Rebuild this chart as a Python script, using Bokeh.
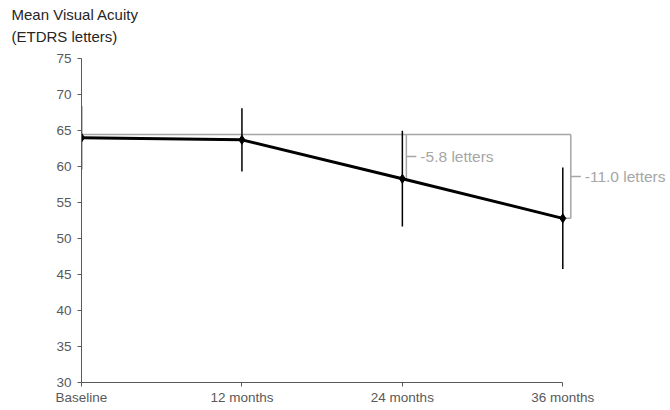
from bokeh.plotting import figure
from bokeh.models import Range1d, FixedTicker, Title
from bokeh.embed import file_html
from bokeh.resources import INLINE
from bokeh.core.properties import value

# ---- data ----
categories = ["Baseline", "12 months", "24 months", "36 months"]
mean_va = [64.0, 63.7, 58.3, 52.8]
err_va = [4.4, 4.4, 6.65, 7.05]
y_ticks = [30, 35, 40, 45, 50, 55, 60, 65, 70, 75]
change_index = [2, 3]
change_labels = ["-5.8 letters", "-11.0 letters"]
title_lines = ["Mean Visual Acuity", "(ETDRS letters)"]

# ---- styling ----
FONT = "Liberation Sans"
GRAY = "#A6A6A6"
AX = "#595959"
TXT = "#262626"

W, H = 670, 410
LEFT, RIGHT, TOP, BOTTOM = 81, 0, 58, 28
frame_w = W - LEFT - RIGHT
px_per_unit = 481.3 / 3.0            # spacing between category ticks
x_end = frame_w / px_per_unit

xs = list(range(len(categories)))

p = figure(width=W, height=H, output_backend="svg", toolbar_location=None,
           x_range=Range1d(0, x_end), y_range=Range1d(y_ticks[0], y_ticks[-1]),
           min_border_left=LEFT, min_border_right=RIGHT,
           min_border_top=TOP, min_border_bottom=BOTTOM)
p.xgrid.visible = False
p.ygrid.visible = False
p.outline_line_color = None
p.background_fill_color = "white"
p.border_fill_color = "white"

for ax in (p.xaxis[0], p.yaxis[0]):
    ax.axis_line_color = AX
    ax.axis_line_width = 1
    ax.major_tick_line_color = AX
    ax.major_tick_in = 0
    ax.major_tick_out = 4
    ax.minor_tick_line_color = None
    ax.major_label_text_font = FONT
    ax.major_label_text_font_size = "13.5px"
    ax.major_label_text_color = AX

p.xaxis.ticker = FixedTicker(ticks=xs)
p.xaxis.major_label_overrides = {i: c for i, c in enumerate(categories)}
p.xaxis.bounds = (xs[0], xs[-1])
p.xaxis.major_label_standoff = 3
p.yaxis.ticker = FixedTicker(ticks=y_ticks)
p.yaxis.major_label_standoff = 6

# ---- gray change brackets ----
def px(n):
    return n / px_per_unit

bracket_top = mean_va[0] + 0.45
bracket_dx = [px(4), px(8)]
bx = [change_index[k] + bracket_dx[k] for k in range(len(change_index))]
p.line([xs[0], bx[-1]], [bracket_top, bracket_top], color=GRAY, line_width=1.5)
p.segment(x0=bx, y0=[bracket_top] * len(bx), x1=bx,
          y1=[mean_va[i] for i in change_index], color=GRAY, line_width=1.5)
p.segment(x0=[float(i) for i in change_index], y0=[mean_va[i] for i in change_index],
          x1=bx, y1=[mean_va[i] for i in change_index], color=GRAY, line_width=1.5)
mids = [(bracket_top + mean_va[i]) / 2 for i in change_index]
p.segment(x0=bx, y0=mids, x1=[b + px(10) for b in bx], y1=mids, color=GRAY, line_width=1.5)
p.text(x=[b + px(14) for b in bx], y=mids, text=change_labels,
       text_font=value(FONT), text_font_size="15.5px", text_color=GRAY,
       text_baseline="middle", text_align="left")

# ---- main series ----
p.line(xs, mean_va, color="black", line_width=3)
p.segment(x0=xs, y0=[m - e for m, e in zip(mean_va, err_va)],
          x1=xs, y1=[m + e for m, e in zip(mean_va, err_va)],
          color="black", line_width=1.5)
p.scatter(xs, mean_va, marker="diamond", size=9, color="black")

# ---- title (two lines, top-left) ----
# small blank spacer between the title block and the plot frame
p.add_layout(Title(text=" ", text_font_size="8px", standoff=0), "above")
standoffs = [0, 6]
for k in reversed(range(len(title_lines))):
    p.add_layout(Title(text=title_lines[k], align="left", offset=-70,
                       standoff=standoffs[k], text_font=FONT,
                       text_font_size="15px", text_font_style="normal",
                       text_color=TXT), "above")

open("out.html", "w").write(file_html(p, INLINE))
